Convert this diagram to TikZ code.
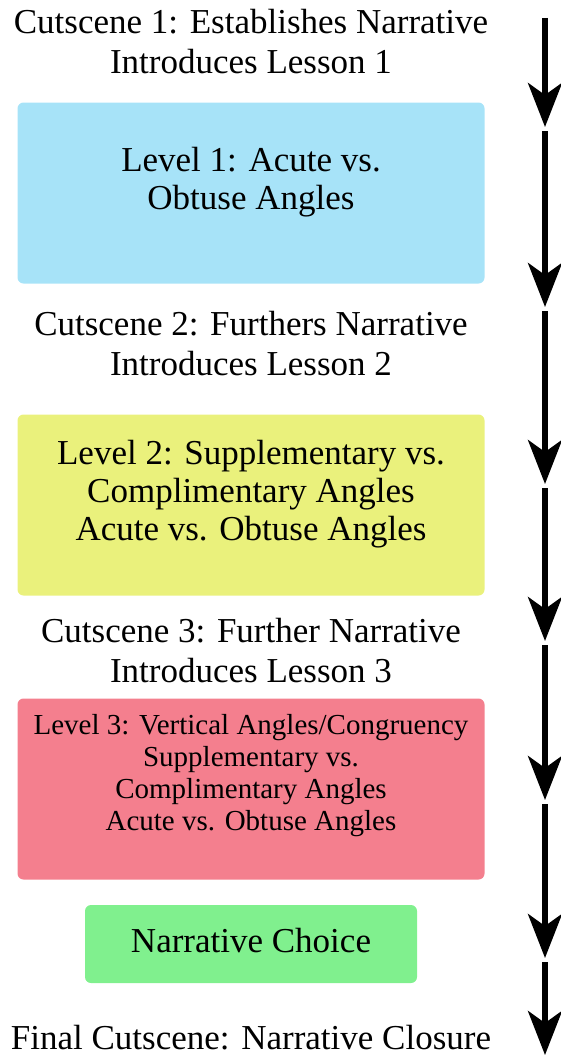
\documentclass[tikz,border=0pt]{standalone}
\usepackage{fontspec}
\setmainfont{Liberation Serif}
\usetikzlibrary{arrows.meta,positioning}

\definecolor{lvlblue}{HTML}{A7E3F8}
\definecolor{lvlyellow}{HTML}{EAF17C}
\definecolor{lvlred}{HTML}{F47F8E}
\definecolor{choicegreen}{HTML}{80F08E}

\begin{document}
\begin{tikzpicture}[x=1pt, y=-1pt, node distance=151pt, on grid,
    scene/.style={align=center, inner sep=0pt, font=\fontsize{35}{40}\selectfont},
    level/.style={rectangle, rounded corners=6pt, minimum width=467pt, minimum height=181pt, inner sep=0pt, align=center, text depth=30pt, font=\fontsize{35}{38}\selectfont},
    flow/.style={-{Stealth[length=44pt, width=34pt, inset=12pt]}, line width=5.5pt, shorten <=2pt, shorten >=2pt}]

    \useasboundingbox (0,0) rectangle (560,1057);

    \node[scene] (cut1) at (251,42) {Cutscene 1: Establishes Narrative\\Introduces Lesson 1};
    \node[level, fill=lvlblue, below=of cut1] (lvl1) {Level 1: Acute vs.\\Obtuse Angles};
    \node[scene, below=of lvl1] (cut2) {Cutscene 2: Furthers Narrative\\Introduces Lesson 2};
    \node[level, fill=lvlyellow, below=161pt of cut2] (lvl2) {Level 2: Supplementary vs.\\Complimentary Angles\\Acute vs. Obtuse Angles};
    \node[scene, below=146pt of lvl2] (cut3) {Cutscene 3: Further Narrative\\Introduces Lesson 3};
    \node[level, fill=lvlred, font=\fontsize{29}{32}\selectfont, text depth=34pt, below=138pt of cut3] (lvl3) {Level 3: Vertical Angles/Congruency\\Supplementary vs.\\Complimentary Angles\\Acute vs. Obtuse Angles};
    \node[level, fill=choicegreen, minimum width=332pt, minimum height=78pt, text depth=8pt, below=155pt of lvl3] (choice) {Narrative Choice};
    \node[scene, below=94pt of choice] (final) {Final Cutscene: Narrative Closure};

    % timeline on the right
    \coordinate (t0) at (545,16);
    \coordinate (t1) at (545,129);
    \coordinate (t2) at (545,309);
    \coordinate (t3) at (545,486);
    \coordinate (t4) at (545,643);
    \coordinate (t5) at (545,802);
    \coordinate (t6) at (545,960);
    \coordinate (t7) at (545,1057);

    \draw[flow] (t0) -- (t1);
    \draw[flow] (t1) -- (t2);
    \draw[flow] (t2) -- (t3);
    \draw[flow] (t3) -- (t4);
    \draw[flow] (t4) -- (t5);
    \draw[flow] (t5) -- (t6);
    \draw[flow] (t6) -- (t7);
\end{tikzpicture}
\end{document}
